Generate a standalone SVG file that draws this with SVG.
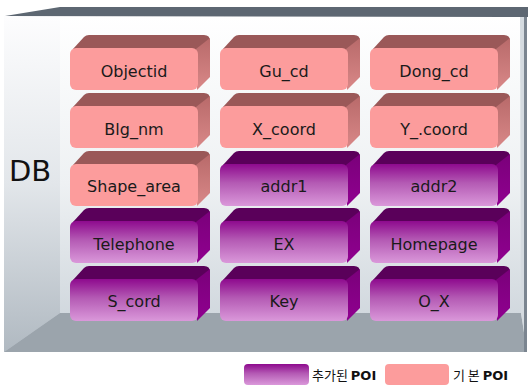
<svg xmlns="http://www.w3.org/2000/svg" width="530" height="387" viewBox="0 0 530 387">
<style>
  .lbl{font-family:"DejaVu Sans","Liberation Sans",sans-serif;font-size:16px;fill:#1a1a1a;text-anchor:middle}
  .leg{font-family:"Noto Sans CJK KR","Liberation Sans",sans-serif;font-size:13px;fill:#111}
</style>
<defs>
  <linearGradient id="wall" x1="0" y1="0" x2="0" y2="1">
    <stop offset="0" stop-color="#ffffff"/>
    <stop offset="0.5" stop-color="#eef1f3"/>
    <stop offset="1" stop-color="#c9d1d8"/>
  </linearGradient>
  <linearGradient id="lwall" x1="0" y1="0" x2="0" y2="1">
    <stop offset="0" stop-color="#fdfdfe"/>
    <stop offset="0.5" stop-color="#e2e6ea"/>
    <stop offset="1" stop-color="#b0b9c1"/>
  </linearGradient>
  <linearGradient id="pFront" x1="0" y1="0" x2="0" y2="1">
    <stop offset="0" stop-color="#8e0a8e"/>
    <stop offset="0.45" stop-color="#b45ab4"/>
    <stop offset="1" stop-color="#da98da"/>
  </linearGradient>
  <linearGradient id="pSide" x1="0" y1="0" x2="0" y2="1">
    <stop offset="0" stop-color="#7a007a"/>
    <stop offset="1" stop-color="#900090"/>
  </linearGradient>
  <linearGradient id="rSide" x1="0" y1="0" x2="0" y2="1">
    <stop offset="0" stop-color="#b86a6a"/>
    <stop offset="1" stop-color="#d98888"/>
  </linearGradient>
  <g id="pinkTile">
    <path d="M3,14 L14,2 Q16,0 19,0 H134 Q140,0 140,6 L128,17 Z" fill="#9a5858"/>
    <path d="M126,14 L140,3 V42 L127,55 Z" fill="url(#rSide)"/>
    <rect x="0" y="13" width="128" height="42" rx="6" fill="#fc9c9c"/>
  </g>
  <g id="purpleTile">
    <path d="M3,14 L14,2 Q16,0 19,0 H134 Q140,0 140,6 L128,17 Z" fill="#5a005a"/>
    <path d="M126,14 L140,3 V42 L127,55 Z" fill="url(#pSide)"/>
    <rect x="0" y="13" width="128" height="42" rx="6" fill="url(#pFront)"/>
  </g>
</defs>

<g id="container">
  <rect x="4" y="16" width="523" height="336" fill="url(#wall)"/>
  <polygon points="4,16 60,16 60,313 4,352" fill="url(#lwall)"/>
  <polygon points="4,352 60,313 521,313 527,352" fill="#9ba4ac"/>
  <polygon points="520,16 527,16 527,352 521,313" fill="#d5dbe0"/>
  <rect x="524" y="9" width="3" height="343" fill="#7b8590"/>
  <polygon points="5,16 60,7 528,7 528,17" fill="#5d6772"/>
  <text x="9" y="181" style="font-family:'DejaVu Sans','Liberation Sans',sans-serif;font-size:29px;fill:#111">DB</text>
</g>

<g id="connectors"></g>

<g id="n-objectid"><use href="#pinkTile" x="70" y="35"/><text class="lbl" x="134" y="77">Objectid</text></g>
<g id="n-gucd"><use href="#pinkTile" x="220" y="35"/><text class="lbl" x="284" y="77">Gu_cd</text></g>
<g id="n-dongcd"><use href="#pinkTile" x="370" y="35"/><text class="lbl" x="434" y="77">Dong_cd</text></g>

<g id="n-blgnm"><use href="#pinkTile" x="70" y="93"/><text class="lbl" x="134" y="135">Blg_nm</text></g>
<g id="n-xcoord"><use href="#pinkTile" x="220" y="93"/><text class="lbl" x="284" y="135">X_coord</text></g>
<g id="n-ycoord"><use href="#pinkTile" x="370" y="93"/><text class="lbl" x="434" y="135">Y_.coord</text></g>

<g id="n-shapearea"><use href="#pinkTile" x="70" y="151"/><text class="lbl" x="134" y="192">Shape_area</text></g>
<g id="n-addr1"><use href="#purpleTile" x="220" y="151"/><text class="lbl" x="284" y="192">addr1</text></g>
<g id="n-addr2"><use href="#purpleTile" x="370" y="151"/><text class="lbl" x="434" y="192">addr2</text></g>

<g id="n-telephone"><use href="#purpleTile" x="70" y="208"/><text class="lbl" x="134" y="250">Telephone</text></g>
<g id="n-ex"><use href="#purpleTile" x="220" y="208"/><text class="lbl" x="284" y="250">EX</text></g>
<g id="n-homepage"><use href="#purpleTile" x="370" y="208"/><text class="lbl" x="434" y="250">Homepage</text></g>

<g id="n-scord"><use href="#purpleTile" x="70" y="266"/><text class="lbl" x="134" y="307">S_cord</text></g>
<g id="n-key"><use href="#purpleTile" x="220" y="266"/><text class="lbl" x="284" y="307">Key</text></g>
<g id="n-ox"><use href="#purpleTile" x="370" y="266"/><text class="lbl" x="434" y="307">O_X</text></g>

<g id="legend">
  <rect x="244" y="364" width="65" height="21" rx="4" fill="url(#pFront)"/>
  <text class="leg" x="312" y="380">추가된 <tspan font-weight="bold" font-family="'DejaVu Sans','Liberation Sans',sans-serif">POI</tspan></text>
  <rect x="385" y="364" width="64" height="21" rx="4" fill="#fc9c9c"/>
  <text class="leg" x="453" y="380">기 본 <tspan font-weight="bold" font-family="'DejaVu Sans','Liberation Sans',sans-serif">POI</tspan></text>
</g>
</svg>
